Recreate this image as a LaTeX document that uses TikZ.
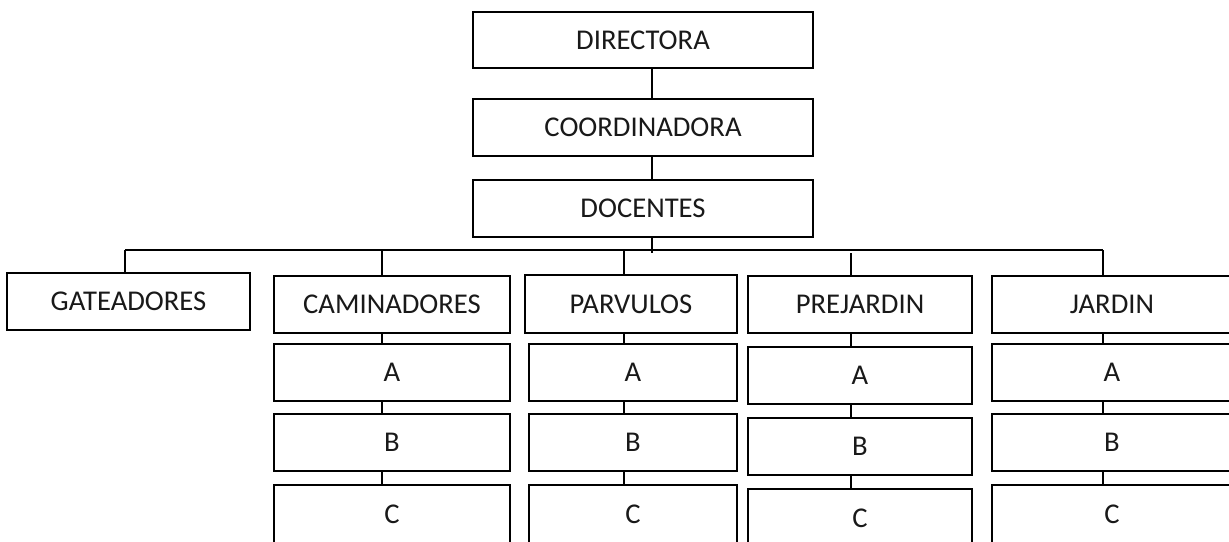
\documentclass[tikz,border=0pt]{standalone}
\usepackage{fontspec}
\setmainfont{Carlito}
\usepackage{tikz}
\usetikzlibrary{positioning}

\begin{document}
\begin{tikzpicture}[
  x=0.02cm, y=-0.02cm,
  box/.style={rectangle, draw=black, line width=1.1pt, fill=white,
    inner sep=0pt, minimum height=1.14cm, text=black!90,
    font=\fontsize{16.3}{19}\selectfont},
  link/.style={line width=0.9pt, draw=black}
]
\useasboundingbox (0,0) rectangle (1229,541);
\clip (0,0) rectangle (1229,541);

% top of the chart
\node[box, minimum width=6.8cm, minimum height=1.12cm] (dir) at (643,40) {DIRECTORA};
\node[box, minimum width=6.8cm, below=0.58cm of dir] (coord) {COORDINADORA};
\node[box, minimum width=6.8cm, below=0.44cm of coord] (doc) {DOCENTES};

% points on the bus
\coordinate (spine) at (652,253);
\coordinate (gatbus) at (125,250);
\coordinate (cambus) at (382,250);
\coordinate (parbus) at (624,250);
\coordinate (prebus) at (851,253);
\coordinate (jarbus) at (1103,250);

% levels
\node[box, minimum width=4.86cm] (gat) at (128.5,301.5) {GATEADORES};
\node[box, minimum width=4.72cm] (cam) at (392,304.5) {CAMINADORES};
\node[box, minimum width=4.24cm, minimum height=1.16cm] (par) at (631,304) {PARVULOS};
\node[box, minimum width=4.48cm] (pre) at (860,304.5) {PREJARDIN};
\node[box, minimum width=4.8cm] (jar) at (1112,304.5) {JARDIN};

% groups
\node[box, minimum width=4.72cm, below=0.18cm of cam] (camA) {A};
\node[box, minimum width=4.72cm, below=0.22cm of camA] (camB) {B};
\node[box, minimum width=4.72cm, minimum height=1.2cm, below=0.24cm of camB] (camC) {C};

\node[box, minimum width=4.16cm, below=0.18cm of par, xshift=0.04cm] (parA) {A};
\node[box, minimum width=4.16cm, below=0.22cm of parA] (parB) {B};
\node[box, minimum width=4.16cm, minimum height=1.2cm, below=0.24cm of parB] (parC) {C};

\node[box, minimum width=4.48cm, below=0.24cm of pre] (preA) {A};
\node[box, minimum width=4.48cm, below=0.24cm of preA] (preB) {B};
\node[box, minimum width=4.48cm, minimum height=1.2cm, below=0.24cm of preB] (preC) {C};

\node[box, minimum width=4.8cm, below=0.18cm of jar] (jarA) {A};
\node[box, minimum width=4.8cm, below=0.22cm of jarA] (jarB) {B};
\node[box, minimum width=4.8cm, minimum height=1.2cm, below=0.24cm of jarB] (jarC) {C};

% connectors
\draw[link] (dir.south -| spine) -- (coord.north -| spine);
\draw[link] (coord.south -| spine) -- (doc.north -| spine);
\draw[link] (doc.south -| spine) -- (spine);
\draw[link] (gatbus) -- (jarbus);

\draw[link] (gatbus) -- (gatbus |- gat.north);
\draw[link] (cambus) -- (cambus |- cam.north);
\draw[link] (parbus) -- (parbus |- par.north);
\draw[link] (prebus) -- (prebus |- pre.north);
\draw[link] (jarbus) -- (jarbus |- jar.north);

\draw[link] (cam.south -| cambus) -- (camA.north -| cambus);
\draw[link] (camA.south -| cambus) -- (camB.north -| cambus);
\draw[link] (camB.south -| cambus) -- (camC.north -| cambus);

\draw[link] (par.south -| parbus) -- (parA.north -| parbus);
\draw[link] (parA.south -| parbus) -- (parB.north -| parbus);
\draw[link] (parB.south -| parbus) -- (parC.north -| parbus);

\draw[link] (pre.south -| prebus) -- (preA.north -| prebus);
\draw[link] (preA.south -| prebus) -- (preB.north -| prebus);
\draw[link] (preB.south -| prebus) -- (preC.north -| prebus);

\draw[link] (jar.south -| jarbus) -- (jarA.north -| jarbus);
\draw[link] (jarA.south -| jarbus) -- (jarB.north -| jarbus);
\draw[link] (jarB.south -| jarbus) -- (jarC.north -| jarbus);
\end{tikzpicture}
\end{document}
